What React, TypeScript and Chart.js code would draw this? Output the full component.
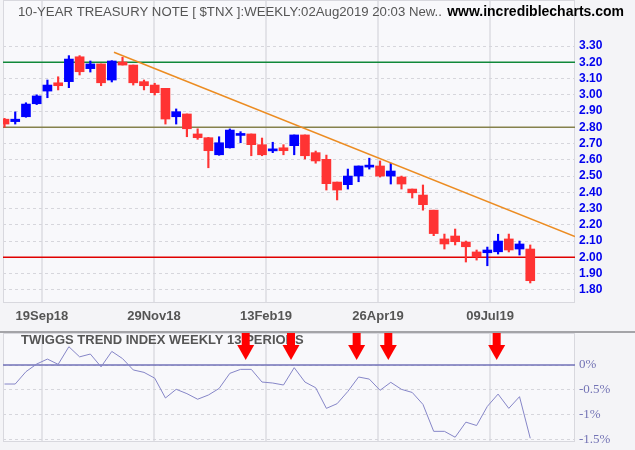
import React, { useEffect, useRef } from 'react';
import { Chart, registerables } from 'chart.js';

Chart.register(...registerables);

// ---------- data ----------
const opens = [
  2.85, 2.835, 2.865, 2.945, 3.023, 3.074, 3.081, 3.234, 3.161, 3.19,
  3.091, 3.202, 3.183, 3.081, 3.06, 3.04, 2.865, 2.882, 2.759, 2.736,
  2.631, 2.674, 2.75, 2.759, 2.693, 2.655, 2.674, 2.687, 2.753, 2.644,
  2.603, 2.463, 2.447, 2.5, 2.555, 2.562, 2.5, 2.494, 2.42, 2.383,
  2.29, 2.113, 2.131, 2.094, 2.033, 2.028, 2.034, 2.113, 2.051, 2.051,
];
const highs = [
  2.855, 2.895, 2.951, 3.0, 3.091, 3.111, 3.241, 3.241, 3.208, 3.19,
  3.21, 3.231, 3.183, 3.091, 3.071, 3.04, 2.913, 2.882, 2.791, 2.738,
  2.742, 2.79, 2.773, 2.759, 2.734, 2.708, 2.693, 2.753, 2.753, 2.654,
  2.629, 2.463, 2.543, 2.562, 2.61, 2.593, 2.579, 2.5, 2.42, 2.445,
  2.29, 2.143, 2.174, 2.1, 2.045, 2.063, 2.142, 2.143, 2.1, 2.076,
];
const lows = [
  2.8, 2.82, 2.862, 2.94, 2.982, 3.03, 3.044, 3.122, 3.14, 3.056,
  3.079, 3.183, 3.06, 3.03, 2.999, 2.82, 2.82, 2.742, 2.726, 2.551,
  2.628, 2.672, 2.705, 2.625, 2.625, 2.644, 2.631, 2.631, 2.605, 2.579,
  2.414, 2.353, 2.42, 2.465, 2.543, 2.494, 2.451, 2.42, 2.365, 2.29,
  2.133, 2.051, 2.076, 1.971, 1.983, 1.948, 2.02, 2.033, 2.014, 1.842,
];
const closes = [
  2.82, 2.85, 2.943, 2.993, 3.06, 3.056, 3.22, 3.142, 3.19, 3.074,
  3.208, 3.183, 3.074, 3.056, 3.013, 2.851, 2.896, 2.791, 2.736, 2.656,
  2.705, 2.783, 2.755, 2.693, 2.631, 2.66, 2.656, 2.753, 2.625, 2.593,
  2.453, 2.414, 2.5, 2.562, 2.56, 2.5, 2.531, 2.451, 2.397, 2.324,
  2.146, 2.082, 2.096, 2.065, 2.002, 2.045, 2.1, 2.045, 2.082, 1.856,
];
const trendIndex = [
  -0.385, -0.385, -0.135, 0.02, 0.12, 0.013, 0.37, 0.165, 0.222, -0.037,
  0.275, 0.13, -0.1, -0.149, -0.266, -0.668, -0.492, -0.58, -0.693, -0.608,
  -0.475, -0.169, -0.088, -0.088, -0.345, -0.365, -0.405, -0.054, -0.345, -0.46,
  -0.878, -0.783, -0.535, -0.243, -0.285, -0.512, -0.351, -0.493, -0.556, -0.798,
  -1.343, -1.343, -1.462, -1.157, -1.225, -0.838, -0.589, -0.878, -0.641, -1.484,
];
const xTickPos = [3.49, 13.93, 24.37, 34.81, 45.25];
const xTickLabels = ['19Sep18', '29Nov18', '13Feb19', '26Apr19', '09Jul19'];
const priceTicks = [1.8, 1.9, 2.0, 2.1, 2.2, 2.3, 2.4, 2.5, 2.6, 2.7, 2.8, 2.9, 3.0, 3.1, 3.2, 3.3];
const pctTicks = [0, -0.5, -1, -1.5];
const pctLabels = ['0%', '-0.5%', '-1%', '-1.5%'];
const levelValues = [3.2, 2.8, 2.0];
const levelColors = ['#10883a', '#85814c', '#e00000'];
const trendLine = [
  { x: 10.2, y: 3.262 },
  { x: 53.17, y: 2.128 },
];
const arrowX = [22.48, 26.7, 32.82, 35.77, 45.87];

const X_MIN = -0.14;
const X_MAX = 53.17;
const P_MIN = 1.7188;
const P_MAX = 3.5834;
const I_MIN = -1.559;
const I_MAX = 0.648;

const TITLE = '10-YEAR TREASURY NOTE [ $TNX ]:WEEKLY:02Aug2019 20:03 New..';
const SITE = 'www.incrediblecharts.com';
const IND_TITLE = 'TWIGGS TREND INDEX WEEKLY 13 PERIODS';

const SANS = '"Liberation Sans", Arial, sans-serif';
const SERIF = '"Liberation Serif", "Times New Roman", serif';
const PAGE_BG = '#f4f4f7';
const PLOT_BG = '#f8f8fb';
const UP = '#0000ff';
const DOWN = '#ff3333';

const noPad = (s: any) => {
  s.paddingTop = 0;
  s.paddingBottom = 0;
  s.paddingLeft = 0;
  s.paddingRight = 0;
};

export default function App() {
  const topRef = useRef<HTMLCanvasElement>(null);
  const botRef = useRef<HTMLCanvasElement>(null);

  useEffect(() => {
    const colors = opens.map((o, i) => (closes[i] >= o ? UP : DOWN));

    const bgPlugin = {
      id: 'bgPlugin',
      beforeDraw(chart: any) {
        const { ctx, chartArea: a, width, height } = chart;
        ctx.save();
        ctx.fillStyle = PAGE_BG;
        ctx.fillRect(0, 0, width, height);
        ctx.fillStyle = PLOT_BG;
        ctx.fillRect(a.left, a.top, a.right - a.left, a.bottom - a.top);
        ctx.restore();
      },
    };
    const borderPlugin = {
      id: 'borderPlugin',
      beforeDatasetsDraw(chart: any) {
        const { ctx, chartArea: a } = chart;
        ctx.save();
        ctx.strokeStyle = '#d8d8de';
        ctx.lineWidth = 1;
        ctx.strokeRect(a.left + 0.5, a.top + 0.5, a.right - a.left - 1, a.bottom - a.top - 1);
        ctx.restore();
      },
    };
    const titlePlugin = {
      id: 'titlePlugin',
      beforeDatasetsDraw(chart: any) {
        const { ctx } = chart;
        ctx.save();
        ctx.textBaseline = 'middle';
        ctx.textAlign = 'left';
        ctx.fillStyle = '#555555';
        ctx.font = `13.2px ${SANS}`;
        ctx.fillText(TITLE, 18, 12);
        ctx.textAlign = 'right';
        ctx.fillStyle = '#000000';
        ctx.font = `bold 14px ${SANS}`;
        ctx.fillText(SITE, 624, 12);
        ctx.restore();
      },
    };

    const top = new Chart(topRef.current as HTMLCanvasElement, {
      type: 'bar',
      data: {
        datasets: [
          {
            type: 'line',
            data: trendLine,
            borderColor: '#ec8c22',
            borderWidth: 1.5,
            pointRadius: 0,
            order: 0,
          } as any,
          {
            type: 'bar',
            data: opens.map((o, i) => ({ x: i, y: [o, closes[i]] })),
            backgroundColor: colors,
            barThickness: 9,
            grouped: false,
            minBarLength: 2,
            order: 1,
          } as any,
          {
            type: 'bar',
            data: lows.map((l, i) => ({ x: i, y: [l, highs[i]] })),
            backgroundColor: colors,
            barThickness: 1.5,
            grouped: false,
            order: 2,
          } as any,
          ...levelValues.map((v, k) => ({
            type: 'line',
            data: [
              { x: X_MIN, y: v },
              { x: X_MAX, y: v },
            ],
            borderColor: levelColors[k],
            borderWidth: 1.5,
            pointRadius: 0,
            order: 3,
          })) as any,
        ],
      },
      options: {
        responsive: false,
        animation: false,
        devicePixelRatio: 1,
        layout: { padding: { left: 3, top: 0, right: 0, bottom: 0 } },
        plugins: { legend: { display: false }, tooltip: { enabled: false } },
        scales: {
          x: {
            type: 'linear',
            min: X_MIN,
            max: X_MAX,
            offset: false,
            afterBuildTicks: (s: any) => {
              s.ticks = xTickPos.map((v) => ({ value: v }));
            },
            afterFit: (s: any) => {
              s.height = 28;
              noPad(s);
            },
            ticks: {
              callback: (_v: any, i: number) => xTickLabels[i],
              font: { family: SANS, size: 13, weight: 'bold' },
              color: '#555555',
              padding: 6,
              maxRotation: 0,
              autoSkip: false,
            },
            grid: { color: '#e3e3e8', lineWidth: 2, drawTicks: false, offset: false },
            border: { display: false },
          },
          y: {
            type: 'linear',
            position: 'right',
            min: P_MIN,
            max: P_MAX,
            beginAtZero: false,
            afterBuildTicks: (s: any) => {
              s.ticks = priceTicks.map((v) => ({ value: v }));
            },
            afterFit: (s: any) => {
              s.width = 60;
              noPad(s);
            },
            ticks: {
              callback: (v: any) => Number(v).toFixed(2),
              font: { family: SANS, size: 12, weight: 'bold' },
              color: '#0000ee',
              padding: 4,
            },
            grid: { color: '#d6d6dc', lineWidth: 1, drawTicks: false },
            border: { display: false, dash: [3, 3] },
          },
        },
      } as any,
      plugins: [bgPlugin, borderPlugin, titlePlugin],
    });

    const indTitlePlugin = {
      id: 'indTitlePlugin',
      beforeDatasetsDraw(chart: any) {
        const { ctx } = chart;
        ctx.save();
        ctx.textBaseline = 'middle';
        ctx.textAlign = 'left';
        ctx.fillStyle = '#555555';
        ctx.font = `bold 13px ${SANS}`;
        ctx.fillText(IND_TITLE, 21, 9);
        ctx.restore();
      },
    };
    const arrowPlugin = {
      id: 'arrowPlugin',
      afterDatasetsDraw(chart: any) {
        const { ctx, chartArea: a } = chart;
        const xs = chart.scales.x;
        ctx.save();
        ctx.fillStyle = '#ff0000';
        arrowX.forEach((xv) => {
          const px = xs.getPixelForValue(xv);
          ctx.fillRect(px - 4, a.top, 8, 13);
          ctx.beginPath();
          ctx.moveTo(px - 8.5, a.top + 12);
          ctx.lineTo(px + 8.5, a.top + 12);
          ctx.lineTo(px, a.top + 27);
          ctx.closePath();
          ctx.fill();
        });
        ctx.restore();
      },
    };
    const sepPlugin = {
      id: 'sepPlugin',
      afterDraw(chart: any) {
        const { ctx, width } = chart;
        ctx.save();
        ctx.fillStyle = '#a4a4a8';
        ctx.fillRect(0, 0, width, 2);
        ctx.restore();
      },
    };

    const bot = new Chart(botRef.current as HTMLCanvasElement, {
      type: 'line',
      data: {
        datasets: [
          {
            data: trendIndex.map((v, i) => ({ x: i, y: v })),
            borderColor: '#8686c8',
            borderWidth: 1,
            pointRadius: 0,
            order: 0,
          },
          {
            data: [
              { x: X_MIN, y: 0 },
              { x: X_MAX, y: 0 },
            ],
            borderColor: '#7272b8',
            borderWidth: 1.5,
            pointRadius: 0,
            order: 1,
          },
        ],
      },
      options: {
        responsive: false,
        animation: false,
        devicePixelRatio: 1,
        layout: { padding: { left: 3, top: 2, right: 0, bottom: 0 } },
        plugins: { legend: { display: false }, tooltip: { enabled: false } },
        scales: {
          x: {
            type: 'linear',
            min: X_MIN,
            max: X_MAX,
            afterBuildTicks: (s: any) => {
              s.ticks = xTickPos.map((v) => ({ value: v }));
            },
            afterFit: (s: any) => {
              s.height = 8;
              noPad(s);
            },
            ticks: { display: false },
            grid: { color: '#e3e3e8', lineWidth: 2, drawTicks: false },
            border: { display: false },
          },
          y: {
            type: 'linear',
            position: 'right',
            min: I_MIN,
            max: I_MAX,
            afterBuildTicks: (s: any) => {
              s.ticks = pctTicks.map((v) => ({ value: v }));
            },
            afterFit: (s: any) => {
              s.width = 60;
              noPad(s);
            },
            ticks: {
              callback: (_v: any, i: number) => pctLabels[i],
              font: { family: SERIF, size: 13 },
              color: '#7373b5',
              padding: 4,
            },
            grid: { color: '#d6d6dc', lineWidth: 1, drawTicks: false },
            border: { display: false, dash: [3, 3] },
          },
        },
      } as any,
      plugins: [bgPlugin, borderPlugin, indTitlePlugin, arrowPlugin, sepPlugin],
    });

    return () => {
      top.destroy();
      bot.destroy();
    };
  }, []);

  return (
    <div style={{ position: 'fixed', left: 0, top: 0, width: 635, height: 450, background: PAGE_BG }}>
      <canvas ref={topRef} width={635} height={331} style={{ display: 'block', width: 635, height: 331 }} />
      <canvas ref={botRef} width={635} height={119} style={{ display: 'block', width: 635, height: 119 }} />
    </div>
  );
}
